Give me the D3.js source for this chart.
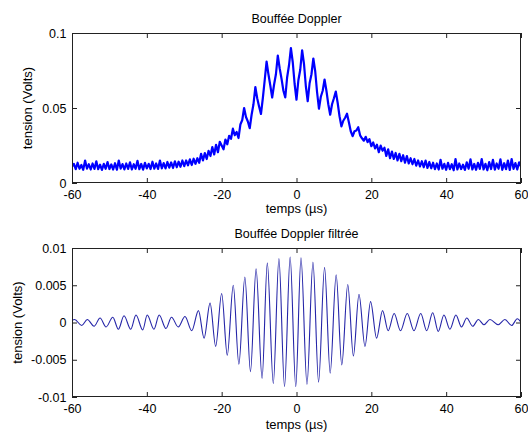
<!DOCTYPE html>
<html>
<head>
<meta charset="utf-8">
<script src="https://cdn.jsdelivr.net/npm/d3@7"></script>
<style>
  body { margin: 0; background: #fff; }
  svg text { font-family: "Liberation Sans", Arial, sans-serif; fill: #000; }
</style>
</head>
<body>
<div id="chart"></div>
<script>
// time ticks (µs) shared by both plots
const timeTicks = [-60, -40, -20, 0, 20, 40, 60];
const rawTicks = [0, 0.05, 0.1];
const rawTickLabels = ["0", "0.05", "0.1"];
const filtTicks = [-0.01, -0.005, 0, 0.005, 0.01];
const filtTickLabels = ["-0.01", "-0.005", "0", "0.005", "0.01"];

// raw burst, [time µs, tension V], every 0.5 µs
const rawSignal = [
  [-60,0.0110],[-59.5,0.0128],[-59,0.0092],[-58.5,0.0135],[-58,0.0095],[-57.5,0.0120],[-57,0.0088],[-56.5,0.0150],[-56,0.0096],[-55.5,0.0125],
  [-55,0.0090],[-54.5,0.0130],[-54,0.0094],[-53.5,0.0145],[-53,0.0092],[-52.5,0.0122],[-52,0.0087],[-51.5,0.0128],[-51,0.0095],[-50.5,0.0140],
  [-50,0.0093],[-49.5,0.0124],[-49,0.0090],[-48.5,0.0132],[-48,0.0088],[-47.5,0.0150],[-47,0.0096],[-46.5,0.0126],[-46,0.0091],[-45.5,0.0130],
  [-45,0.0094],[-44.5,0.0138],[-44,0.0090],[-43.5,0.0125],[-43,0.0095],[-42.5,0.0148],[-42,0.0092],[-41.5,0.0127],[-41,0.0089],[-40.5,0.0134],
  [-40,0.0097],[-39.5,0.0128],[-39,0.0093],[-38.5,0.0142],[-38,0.0096],[-37.5,0.0130],[-37,0.0094],[-36.5,0.0150],[-36,0.0098],[-35.5,0.0133],
  [-35,0.0097],[-34.5,0.0140],[-34,0.0102],[-33.5,0.0137],[-33,0.0100],[-32.5,0.0145],[-32,0.0105],[-31.5,0.0142],[-31,0.0108],[-30.5,0.0150],
  [-30,0.0112],[-29.5,0.0150],[-29,0.0118],[-28.5,0.0158],[-28,0.0120],[-27.5,0.0162],[-27,0.0128],[-26.5,0.0165],[-26,0.0135],[-25.5,0.0195],
  [-25,0.0150],[-24.5,0.0200],[-24,0.0160],[-23.5,0.0215],[-23,0.0180],[-22.5,0.0240],[-22,0.0190],[-21.5,0.0255],[-21,0.0205],[-20.5,0.0275],
  [-20,0.0250],[-19.5,0.0225],[-19,0.0290],[-18.5,0.0258],[-18,0.0315],[-17.5,0.0295],[-17,0.0362],[-16.5,0.0318],[-16,0.0340],[-15.5,0.0300],
  [-15,0.0390],[-14.5,0.0420],[-14,0.0500],[-13.5,0.0440],[-13,0.0410],[-12.5,0.0365],[-12,0.0455],[-11.5,0.0525],[-11,0.0640],[-10.5,0.0565],
  [-10,0.0510],[-9.5,0.0460],[-9,0.0565],[-8.5,0.0685],[-8,0.0810],[-7.5,0.0725],[-7,0.0650],[-6.5,0.0570],[-6,0.0655],[-5.5,0.0725],
  [-5,0.0850],[-4.5,0.0765],[-4,0.0695],[-3.5,0.0615],[-3,0.0570],[-2.5,0.0705],[-2,0.0785],[-1.5,0.0900],[-1,0.0805],[-0.5,0.0660],
  [0,0.0555],[0.5,0.0685],[1,0.0755],[1.5,0.0885],[2,0.0795],[2.5,0.0645],[3,0.0545],[3.5,0.0665],[4,0.0725],[4.5,0.0830],
  [5,0.0745],[5.5,0.0605],[6,0.0495],[6.5,0.0575],[7,0.0615],[7.5,0.0690],[8,0.0615],[8.5,0.0525],[9,0.0455],[9.5,0.0525],
  [10,0.0565],[10.5,0.0610],[11,0.0535],[11.5,0.0445],[12,0.0378],[12.5,0.0415],[13,0.0435],[13.5,0.0462],[14,0.0405],[14.5,0.0345],
  [15,0.0312],[15.5,0.0345],[16,0.0350],[16.5,0.0372],[17,0.0318],[17.5,0.0298],[18,0.0282],[18.5,0.0308],[19,0.0272],[19.5,0.0292],
  [20,0.0245],[20.5,0.0270],[21,0.0230],[21.5,0.0255],[22,0.0205],[22.5,0.0250],[23,0.0215],[23.5,0.0235],[24,0.0180],[24.5,0.0225],
  [25,0.0165],[25.5,0.0210],[26,0.0160],[26.5,0.0200],[27,0.0150],[27.5,0.0195],[28,0.0145],[28.5,0.0185],[29,0.0135],[29.5,0.0180],
  [30,0.0130],[30.5,0.0165],[31,0.0125],[31.5,0.0160],[32,0.0115],[32.5,0.0150],[33,0.0110],[33.5,0.0145],[34,0.0105],[34.5,0.0150],
  [35,0.0100],[35.5,0.0140],[36,0.0098],[36.5,0.0135],[37,0.0092],[37.5,0.0130],[38,0.0090],[38.5,0.0155],[39,0.0095],[39.5,0.0128],
  [40,0.0088],[40.5,0.0135],[41,0.0092],[41.5,0.0125],[42,0.0085],[42.5,0.0160],[43,0.0090],[43.5,0.0130],[44,0.0093],[44.5,0.0122],
  [45,0.0087],[45.5,0.0138],[46,0.0095],[46.5,0.0158],[47,0.0090],[47.5,0.0127],[48,0.0088],[48.5,0.0135],[49,0.0094],[49.5,0.0160],
  [50,0.0090],[50.5,0.0128],[51,0.0085],[51.5,0.0140],[52,0.0093],[52.5,0.0155],[53,0.0089],[53.5,0.0130],[54,0.0095],[54.5,0.0158],
  [55,0.0088],[55.5,0.0132],[56,0.0092],[56.5,0.0150],[57,0.0087],[57.5,0.0160],[58,0.0094],[58.5,0.0133],[59,0.0090],[59.5,0.0138],
  [60,0.0110]
];

// filtered burst: successive crests and troughs, [time µs, tension V]
const filtSignal = [
  [-60,0.0003],[-59.3,0.0004],[-57.4,-0.0004],[-55.9,0.0004],[-54.1,-0.0005],[-52.5,0.0006],[-50.9,-0.0006],[-49.1,0.0007],
  [-47.6,-0.0009],[-46.1,0.0009],[-44.3,-0.0009],[-42.9,0.0010],[-41.1,-0.0010],[-39.9,0.0010],[-38.1,-0.0009],[-36.7,0.0010],
  [-34.9,-0.0008],[-33.4,0.0007],[-31.6,-0.0006],[-29.8,0.0008],[-28.0,-0.0011],[-26.2,0.0016],[-24.7,-0.0021],[-23.1,0.0026],
  [-21.6,-0.0032],[-20.0,0.0039],[-18.5,-0.0044],[-16.9,0.0050],[-15.4,-0.0056],[-13.8,0.0061],[-12.3,-0.0066],[-10.8,0.0072],
  [-9.2,-0.0075],[-7.8,0.0080],[-6.2,-0.0082],[-4.7,0.0086],[-3.2,-0.0086],[-1.7,0.0088],[-0.2,-0.0086],[1.2,0.0087],
  [2.8,-0.0083],[4.4,0.0081],[5.9,-0.0080],[7.5,0.0074],[9.0,-0.0068],[10.6,0.0064],[12.1,-0.0057],[13.7,0.0051],
  [15.2,-0.0045],[16.7,0.0038],[18.3,-0.0032],[19.8,0.0028],[21.4,-0.0021],[23.0,0.0016],[24.5,-0.0011],[26.1,0.0012],
  [27.8,-0.0011],[29.6,0.0012],[31.4,-0.0011],[33.2,0.0012],[34.8,-0.0011],[36.4,0.0013],[37.9,-0.0012],[39.4,0.0010],
  [41.0,-0.0009],[42.6,0.0010],[44.1,-0.0006],[45.5,0.0006],[47.1,-0.0005],[48.6,0.0004],[50.1,-0.0003],[51.7,0.0004],
  [53.9,-0.0003],[55.7,0.0004],[57.5,-0.0004],[59.0,0.0005],[60.0,0.0000]
];

const width = 528, height = 434;
const left = 72, right = 521;

const svg = d3.select("#chart")
    .append("svg")
    .attr("width", width)
    .attr("height", height);

function drawPanel(cfg) {
    const x = d3.scaleLinear().domain([-60, 60]).range([left, right]);
    const y = d3.scaleLinear().domain(cfg.domain).range([cfg.bottom, cfg.top]);
    const g = svg.append("g");

    const clipId = "clip-" + cfg.name;
    svg.append("clipPath").attr("id", clipId)
        .append("rect")
        .attr("x", left).attr("y", cfg.top)
        .attr("width", right - left).attr("height", cfg.bottom - cfg.top);

    // ticks point inwards on all four sides, matlab style
    g.append("g")
        .attr("transform", `translate(0,${cfg.bottom})`)
        .call(d3.axisBottom(x).tickValues(timeTicks).tickSize(-5).tickSizeOuter(0)
            .tickPadding(7).tickFormat(d => String(d)));
    g.append("g")
        .attr("transform", `translate(0,${cfg.top})`)
        .call(d3.axisTop(x).tickValues(timeTicks).tickSize(-5).tickSizeOuter(0).tickFormat(""));
    g.append("g")
        .attr("transform", `translate(${left},0)`)
        .call(d3.axisLeft(y).tickValues(cfg.ticks).tickSize(-5).tickSizeOuter(0)
            .tickPadding(5.5).tickFormat((d, i) => cfg.labels[i]));
    g.append("g")
        .attr("transform", `translate(${right},0)`)
        .call(d3.axisRight(y).tickValues(cfg.ticks).tickSize(-5).tickSizeOuter(0).tickFormat(""));

    g.selectAll(".domain").remove();
    g.selectAll(".tick line").attr("stroke", "#222");
    g.selectAll(".tick text").style("font-size", "12.5px").attr("fill", "#000");

    const line = d3.line()
        .x(d => x(d[0]))
        .y(d => y(d[1]))
        .curve(cfg.curve);

    svg.append("path")
        .datum(cfg.data)
        .attr("clip-path", `url(#${clipId})`)
        .attr("fill", "none")
        .attr("stroke", cfg.color)
        .attr("stroke-width", cfg.strokeWidth)
        .attr("stroke-linejoin", "round")
        .attr("d", line);

    svg.append("rect")
        .attr("x", left + 0.5).attr("y", cfg.top + 0.5)
        .attr("width", right - left - 1).attr("height", cfg.bottom - cfg.top - 1)
        .attr("fill", "none")
        .attr("stroke", "#222")
        .attr("stroke-width", 1);

    svg.append("text")
        .attr("x", (left + right) / 2)
        .attr("y", cfg.titleY)
        .attr("text-anchor", "middle")
        .style("font-size", "12.5px")
        .text(cfg.title);

    svg.append("text")
        .attr("x", (left + right) / 2)
        .attr("y", cfg.xLabelY)
        .attr("text-anchor", "middle")
        .style("font-size", "13px")
        .text("temps (µs)");

    svg.append("text")
        .attr("transform", `translate(${cfg.yLabelX},${(cfg.top + cfg.bottom) / 2}) rotate(-90)`)
        .attr("text-anchor", "middle")
        .style("font-size", "13px")
        .text("tension (Volts)");
}

drawPanel({
    name: "raw", data: rawSignal, domain: [0, 0.1], ticks: rawTicks, labels: rawTickLabels,
    top: 33, bottom: 183, title: "Bouffée Doppler", titleY: 23, xLabelY: 213, yLabelX: 31.5,
    color: "#0000ff", strokeWidth: 2.2, curve: d3.curveLinear
});

drawPanel({
    name: "filt", data: filtSignal, domain: [-0.01, 0.01], ticks: filtTicks, labels: filtTickLabels,
    top: 248, bottom: 397, title: "Bouffée Doppler filtrée", titleY: 238, xLabelY: 429, yLabelX: 21.5,
    color: "#2525a8", strokeWidth: 1.1, curve: d3.curveMonotoneX
});
</script>
</body>
</html>
